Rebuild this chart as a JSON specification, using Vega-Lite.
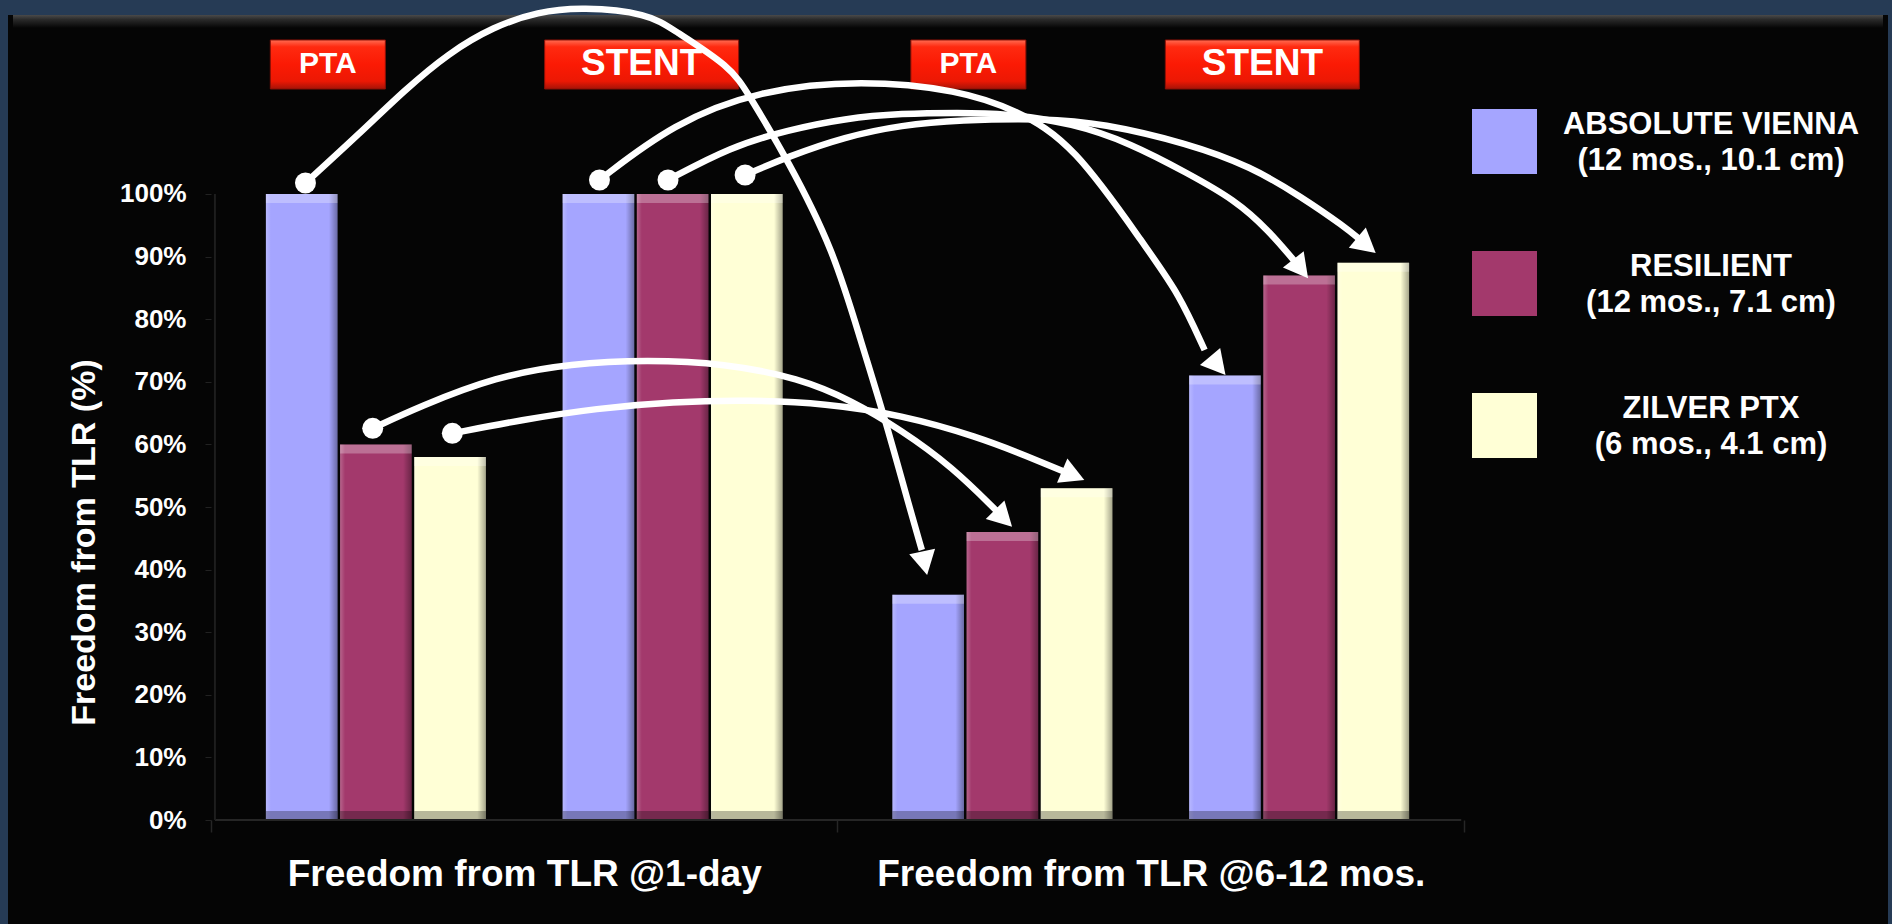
{
  "$schema": "https://vega.github.io/schema/vega-lite/v6.json",
  "width": 1880,
  "height": 909,
  "autosize": {"type": "none"},
  "padding": {"left": 8, "top": 15, "right": 4, "bottom": 0},
  "background": "#263b55",
  "config": {
    "view": {"fill": "#050505", "stroke": null},
    "font": "Liberation Sans"
  },
  "datasets": {
    "bars": [
      {"period": "Freedom from TLR @1-day", "treatment": "PTA", "series": "ABSOLUTE VIENNA", "arm": "PTA · ABSOLUTE VIENNA", "value": 1.0},
      {"period": "Freedom from TLR @1-day", "treatment": "PTA", "series": "RESILIENT", "arm": "PTA · RESILIENT", "value": 0.6},
      {"period": "Freedom from TLR @1-day", "treatment": "PTA", "series": "ZILVER PTX", "arm": "PTA · ZILVER PTX", "value": 0.58},
      {"period": "Freedom from TLR @1-day", "treatment": "STENT", "series": "ABSOLUTE VIENNA", "arm": "STENT · ABSOLUTE VIENNA", "value": 1.0},
      {"period": "Freedom from TLR @1-day", "treatment": "STENT", "series": "RESILIENT", "arm": "STENT · RESILIENT", "value": 1.0},
      {"period": "Freedom from TLR @1-day", "treatment": "STENT", "series": "ZILVER PTX", "arm": "STENT · ZILVER PTX", "value": 1.0},
      {"period": "Freedom from TLR @6-12 mos.", "treatment": "PTA", "series": "ABSOLUTE VIENNA", "arm": "PTA · ABSOLUTE VIENNA", "value": 0.36},
      {"period": "Freedom from TLR @6-12 mos.", "treatment": "PTA", "series": "RESILIENT", "arm": "PTA · RESILIENT", "value": 0.46},
      {"period": "Freedom from TLR @6-12 mos.", "treatment": "PTA", "series": "ZILVER PTX", "arm": "PTA · ZILVER PTX", "value": 0.53},
      {"period": "Freedom from TLR @6-12 mos.", "treatment": "STENT", "series": "ABSOLUTE VIENNA", "arm": "STENT · ABSOLUTE VIENNA", "value": 0.71},
      {"period": "Freedom from TLR @6-12 mos.", "treatment": "STENT", "series": "RESILIENT", "arm": "STENT · RESILIENT", "value": 0.87},
      {"period": "Freedom from TLR @6-12 mos.", "treatment": "STENT", "series": "ZILVER PTX", "arm": "STENT · ZILVER PTX", "value": 0.89}
    ],
    "tags": [
      {"tag": "PTA", "u": 0.1812},
      {"tag": "STENT", "u": 0.6848},
      {"tag": "PTA", "u": 1.2091},
      {"tag": "STENT", "u": 1.6808}
    ],
    "arrows": [
      {"arrow": "a1", "seq": 0, "u": 0.1453, "v": 1.0176},
      {"arrow": "a1", "seq": 1, "u": 0.2330, "v": 1.0974},
      {"arrow": "a1", "seq": 2, "u": 0.3045, "v": 1.1661},
      {"arrow": "a1", "seq": 3, "u": 0.3751, "v": 1.2252},
      {"arrow": "a1", "seq": 4, "u": 0.4469, "v": 1.2673},
      {"arrow": "a1", "seq": 5, "u": 0.5183, "v": 1.2912},
      {"arrow": "a1", "seq": 6, "u": 0.5890, "v": 1.2987},
      {"arrow": "a1", "seq": 7, "u": 0.6959, "v": 1.2886},
      {"arrow": "a1", "seq": 8, "u": 0.7358, "v": 1.2620},
      {"arrow": "a1", "seq": 9, "u": 0.8278, "v": 1.2034},
      {"arrow": "a1", "seq": 10, "u": 0.8552, "v": 1.1609},
      {"arrow": "a1", "seq": 11, "u": 0.9194, "v": 1.0543},
      {"arrow": "a1", "seq": 12, "u": 0.9928, "v": 0.9105},
      {"arrow": "a1", "seq": 13, "u": 1.0359, "v": 0.7668},
      {"arrow": "a1", "seq": 14, "u": 1.0774, "v": 0.6342},
      {"arrow": "a1", "seq": 15, "u": 1.1157, "v": 0.4952},
      {"arrow": "a1", "seq": 16, "u": 1.1344, "v": 0.4313},
      {"arrow": "a2", "seq": 0, "u": 0.2532, "v": 0.6257},
      {"arrow": "a2", "seq": 1, "u": 0.3280, "v": 0.6603},
      {"arrow": "a2", "seq": 2, "u": 0.4501, "v": 0.7082},
      {"arrow": "a2", "seq": 3, "u": 0.5724, "v": 0.7296},
      {"arrow": "a2", "seq": 4, "u": 0.6943, "v": 0.7348},
      {"arrow": "a2", "seq": 5, "u": 0.8168, "v": 0.7296},
      {"arrow": "a2", "seq": 6, "u": 0.9386, "v": 0.7056},
      {"arrow": "a2", "seq": 7, "u": 1.0199, "v": 0.6709},
      {"arrow": "a2", "seq": 8, "u": 1.1014, "v": 0.6230},
      {"arrow": "a2", "seq": 9, "u": 1.1828, "v": 0.5644},
      {"arrow": "a2", "seq": 10, "u": 1.2562, "v": 0.4920},
      {"arrow": "a3", "seq": 0, "u": 0.3810, "v": 0.6177},
      {"arrow": "a3", "seq": 1, "u": 0.4910, "v": 0.6390},
      {"arrow": "a3", "seq": 2, "u": 0.6129, "v": 0.6577},
      {"arrow": "a3", "seq": 3, "u": 0.7352, "v": 0.6682},
      {"arrow": "a3", "seq": 4, "u": 0.8571, "v": 0.6709},
      {"arrow": "a3", "seq": 5, "u": 0.9796, "v": 0.6656},
      {"arrow": "a3", "seq": 6, "u": 1.1014, "v": 0.6470},
      {"arrow": "a3", "seq": 7, "u": 1.2239, "v": 0.6123},
      {"arrow": "a3", "seq": 8, "u": 1.3053, "v": 0.5804},
      {"arrow": "a3", "seq": 9, "u": 1.3655, "v": 0.5554},
      {"arrow": "a4", "seq": 0, "u": 0.6171, "v": 1.0224},
      {"arrow": "a4", "seq": 1, "u": 0.7358, "v": 1.1130},
      {"arrow": "a4", "seq": 2, "u": 0.8731, "v": 1.1661},
      {"arrow": "a4", "seq": 3, "u": 1.0386, "v": 1.1821},
      {"arrow": "a4", "seq": 4, "u": 1.1939, "v": 1.1661},
      {"arrow": "a4", "seq": 5, "u": 1.2859, "v": 1.1342},
      {"arrow": "a4", "seq": 6, "u": 1.3775, "v": 1.0810},
      {"arrow": "a4", "seq": 7, "u": 1.4967, "v": 0.9105},
      {"arrow": "a4", "seq": 8, "u": 1.5467, "v": 0.8414},
      {"arrow": "a4", "seq": 9, "u": 1.5882, "v": 0.7508},
      {"arrow": "a5", "seq": 0, "u": 0.7271, "v": 1.0224},
      {"arrow": "a5", "seq": 1, "u": 0.8278, "v": 1.0756},
      {"arrow": "a5", "seq": 2, "u": 0.9194, "v": 1.1022},
      {"arrow": "a5", "seq": 3, "u": 1.0110, "v": 1.1209},
      {"arrow": "a5", "seq": 4, "u": 1.1026, "v": 1.1289},
      {"arrow": "a5", "seq": 5, "u": 1.1939, "v": 1.1299},
      {"arrow": "a5", "seq": 6, "u": 1.2673, "v": 1.1289},
      {"arrow": "a5", "seq": 7, "u": 1.3775, "v": 1.1130},
      {"arrow": "a5", "seq": 8, "u": 1.4693, "v": 1.0810},
      {"arrow": "a5", "seq": 9, "u": 1.5610, "v": 1.0331},
      {"arrow": "a5", "seq": 10, "u": 1.6372, "v": 0.9904},
      {"arrow": "a5", "seq": 11, "u": 1.6903, "v": 0.9425},
      {"arrow": "a5", "seq": 12, "u": 1.7344, "v": 0.8904},
      {"arrow": "a6", "seq": 0, "u": 0.8508, "v": 1.0304},
      {"arrow": "a6", "seq": 1, "u": 0.9194, "v": 1.0596},
      {"arrow": "a6", "seq": 2, "u": 1.0110, "v": 1.0915},
      {"arrow": "a6", "seq": 3, "u": 1.1026, "v": 1.1102},
      {"arrow": "a6", "seq": 4, "u": 1.1939, "v": 1.1182},
      {"arrow": "a6", "seq": 5, "u": 1.3312, "v": 1.1209},
      {"arrow": "a6", "seq": 6, "u": 1.4235, "v": 1.1130},
      {"arrow": "a6", "seq": 7, "u": 1.5610, "v": 1.0810},
      {"arrow": "a6", "seq": 8, "u": 1.6632, "v": 1.0436},
      {"arrow": "a6", "seq": 9, "u": 1.7430, "v": 0.9957},
      {"arrow": "a6", "seq": 10, "u": 1.8128, "v": 0.9478},
      {"arrow": "a6", "seq": 11, "u": 1.8383, "v": 0.9264}
    ],
    "heads": [
      {"arrow": "a1", "u": 1.1429, "v": 0.3914},
      {"arrow": "a2", "u": 1.2792, "v": 0.4685},
      {"arrow": "a3", "u": 1.3951, "v": 0.5431},
      {"arrow": "a4", "u": 1.6217, "v": 0.7109},
      {"arrow": "a5", "u": 1.7542, "v": 0.8653},
      {"arrow": "a6", "u": 1.8627, "v": 0.9058}
    ]
  },
  "layer": [
    {
      "data": {"name": "bars"},
      "encoding": {
        "x": {
          "field": "period",
          "type": "nominal",
          "sort": null,
          "scale": {"type": "band", "paddingInner": 0, "paddingOuter": 0.5004, "align": 0.32376},
          "axis": {
            "orient": "bottom",
            "offset": -104,
            "title": null,
            "domain": false,
            "tickBand": "extent",
            "tickColor": "#262626",
            "tickSize": 12,
            "tickWidth": 1.5,
            "labelAngle": 0,
            "labelPadding": 24,
            "labelFontSize": 37,
            "labelFontWeight": "bold",
            "labelColor": "#ffffff",
            "labelLimit": 0
          }
        },
        "xOffset": {
          "field": "arm",
          "type": "nominal",
          "scale": {
            "domain": ["PTA · ABSOLUTE VIENNA", "PTA · RESILIENT", "PTA · ZILVER PTX", "·", "STENT · ABSOLUTE VIENNA", "STENT · RESILIENT", "STENT · ZILVER PTX"],
            "paddingInner": 0.035,
            "paddingOuter": 0.74
          }
        }
      },
      "layer": [
        {
          "mark": {"type": "bar"},
          "encoding": {
            "y": {
              "field": "value",
              "type": "quantitative",
              "title": "Freedom from TLR (%)",
              "scale": {"domain": [-0.16613, 1.28594], "nice": false, "zero": false},
              "axis": {
                "values": [0, 0.1, 0.2, 0.3, 0.4, 0.5, 0.6, 0.7, 0.8, 0.9, 1],
                "format": ".0%",
                "offset": -203,
                "domain": false,
                "grid": false,
                "tickColor": "#222222",
                "tickSize": 6,
                "labelPadding": 19,
                "labelFontSize": 26,
                "labelFontWeight": "bold",
                "labelColor": "#ffffff",
                "titleFontSize": 34,
                "titleFontWeight": "bold",
                "titleColor": "#ffffff",
                "titleAngle": -90,
                "titleAlign": "center",
                "titleBaseline": "middle",
                "titleX": -127,
                "titleY": 527
              }
            },
            "y2": {"datum": 0},
            "color": {
              "field": "series",
              "type": "nominal",
              "scale": {
                "domain": ["ABSOLUTE VIENNA", "RESILIENT", "ZILVER PTX"],
                "range": ["#a5a5ff", "#a3396c", "#ffffd6"]
              },
              "legend": {
                "orient": "none",
                "legendX": 1464,
                "legendY": 94,
                "title": null,
                "padding": 0,
                "direction": "vertical",
                "symbolType": "square",
                "symbolSize": 4225,
                "symbolStrokeWidth": 0,
                "symbolOpacity": 1,
                "labelFontSize": 31,
                "labelFontWeight": "bold",
                "labelColor": "#ffffff",
                "labelAlign": "center",
                "labelOffset": 174,
                "labelLimit": 0,
                "rowPadding": 74,
                "labelExpr": "[datum.label, datum.label == 'ABSOLUTE VIENNA' ? '(12 mos., 10.1 cm)' : datum.label == 'RESILIENT' ? '(12 mos., 7.1 cm)' : '(6 mos., 4.1 cm)']",
                "encode": {"labels": {"update": {"lineHeight": {"value": 36}, "dy": {"value": -17}}}}
              }
            }
          }
        },
        {
          "mark": {
            "type": "bar",
            "fill": {
              "gradient": "linear", "x1": 0, "y1": 0, "x2": 1, "y2": 0,
              "stops": [
                {"offset": 0, "color": "rgba(255,255,255,0.22)"},
                {"offset": 0.07, "color": "rgba(255,255,255,0)"},
                {"offset": 0.88, "color": "rgba(0,0,0,0)"},
                {"offset": 1, "color": "rgba(0,0,0,0.35)"}
              ]
            }
          },
          "encoding": {
            "y": {"field": "value", "type": "quantitative", "title": "Freedom from TLR (%)"},
            "y2": {"datum": 0}
          }
        },
        {
          "mark": {"type": "rect", "y2Offset": 9, "fill": "#ffffff", "fillOpacity": 0.28},
          "encoding": {
            "y": {"field": "value", "type": "quantitative", "title": "Freedom from TLR (%)"},
            "y2": {"field": "value"}
          }
        },
        {
          "mark": {"type": "rect", "y2Offset": -9, "fill": "#000000", "fillOpacity": 0.28},
          "encoding": {
            "y": {"datum": 0, "type": "quantitative"},
            "y2": {"datum": 0}
          }
        }
      ]
    },
    {
      "layer": [
        {
          "data": {"values": [{}]},
          "mark": {
            "type": "rect",
            "y2Offset": 13,
            "fill": {
              "gradient": "linear", "x1": 0, "y1": 0, "x2": 0, "y2": 1,
              "stops": [
                {"offset": 0, "color": "#4a4a4a"},
                {"offset": 0.35, "color": "#2a2a2a"},
                {"offset": 1, "color": "#050505"}
              ]
            }
          },
          "encoding": {
            "x": {"datum": -0.32402, "type": "quantitative", "scale": {"domain": [-0.32402, 2.67678], "nice": false, "zero": false}, "axis": null},
            "x2": {"datum": 2.67678},
            "y": {"datum": 1.28594, "type": "quantitative", "scale": {"domain": [-0.16613, 1.28594], "nice": false, "zero": false}, "axis": null},
            "y2": {"datum": 1.28594}
          }
        },
        {
          "data": {"name": "tags"},
          "mark": {
            "type": "bar",
            "stroke": "#8e1006",
            "strokeWidth": 1,
            "fill": {
              "gradient": "linear", "x1": 0, "y1": 0, "x2": 0, "y2": 1,
              "stops": [
                {"offset": 0, "color": "#ff6c52"},
                {"offset": 0.14, "color": "#ff2a10"},
                {"offset": 0.5, "color": "#fb1a04"},
                {"offset": 0.84, "color": "#ec1804"},
                {"offset": 1, "color": "#a51307"}
              ]
            }
          },
          "encoding": {
            "x": {"field": "u", "type": "quantitative", "scale": {"domain": [-0.32402, 2.67678], "nice": false, "zero": false}, "axis": null},
            "y": {"datum": 1.24601, "type": "quantitative", "scale": {"domain": [-0.16613, 1.28594], "nice": false, "zero": false}, "axis": null},
            "y2": {"datum": 1.16773},
            "size": {"condition": {"test": "datum.tag === 'STENT'", "value": 194}, "value": 115}
          }
        },
        {
          "data": {"name": "tags"},
          "mark": {"type": "text", "fontWeight": "bold", "color": "#ffffff", "align": "center", "baseline": "middle"},
          "encoding": {
            "x": {"field": "u", "type": "quantitative", "scale": {"domain": [-0.32402, 2.67678], "nice": false, "zero": false}, "axis": null},
            "y": {"datum": 1.20687, "type": "quantitative", "scale": {"domain": [-0.16613, 1.28594], "nice": false, "zero": false}, "axis": null},
            "text": {"field": "tag"},
            "size": {"condition": {"test": "datum.tag === 'STENT'", "value": 37}, "value": 30}
          }
        },
        {
          "data": {"values": [{}]},
          "mark": {"type": "rule", "color": "#262626", "strokeWidth": 2},
          "encoding": {
            "x": {"datum": 0, "type": "quantitative", "scale": {"domain": [-0.32402, 2.67678], "nice": false, "zero": false}, "axis": null},
            "x2": {"datum": 2},
            "y": {"datum": 0, "type": "quantitative", "scale": {"domain": [-0.16613, 1.28594], "nice": false, "zero": false}, "axis": null}
          }
        },
        {
          "data": {"values": [{}]},
          "mark": {"type": "rule", "color": "#1e1e1e", "strokeWidth": 2},
          "encoding": {
            "x": {"datum": 0, "type": "quantitative", "scale": {"domain": [-0.32402, 2.67678], "nice": false, "zero": false}, "axis": null},
            "y": {"datum": 0, "type": "quantitative", "scale": {"domain": [-0.16613, 1.28594], "nice": false, "zero": false}, "axis": null},
            "y2": {"datum": 1}
          }
        },
        {
          "data": {"name": "arrows"},
          "mark": {"type": "line", "interpolate": "basis", "strokeWidth": 6.5, "color": "#ffffff", "strokeCap": "butt"},
          "encoding": {
            "x": {"field": "u", "type": "quantitative", "scale": {"domain": [-0.32402, 2.67678], "nice": false, "zero": false}, "axis": null},
            "y": {"field": "v", "type": "quantitative", "scale": {"domain": [-0.16613, 1.28594], "nice": false, "zero": false}, "axis": null},
            "detail": {"field": "arrow"},
            "order": {"field": "seq", "type": "quantitative"}
          }
        },
        {
          "data": {"name": "arrows"},
          "transform": [{"filter": "datum.seq === 0"}],
          "mark": {"type": "point", "shape": "circle", "filled": true, "size": 440, "color": "#ffffff", "opacity": 1},
          "encoding": {
            "x": {"field": "u", "type": "quantitative", "scale": {"domain": [-0.32402, 2.67678], "nice": false, "zero": false}, "axis": null},
            "y": {"field": "v", "type": "quantitative", "scale": {"domain": [-0.16613, 1.28594], "nice": false, "zero": false}, "axis": null}
          }
        },
        {
          "data": {"name": "heads"},
          "mark": {"type": "point", "shape": "M0,0L-0.55,-1L0.55,-1Z", "filled": true, "size": 2304, "color": "#ffffff", "opacity": 1},
          "encoding": {
            "x": {"field": "u", "type": "quantitative", "scale": {"domain": [-0.32402, 2.67678], "nice": false, "zero": false}, "axis": null},
            "y": {"field": "v", "type": "quantitative", "scale": {"domain": [-0.16613, 1.28594], "nice": false, "zero": false}, "axis": null},
            "angle": {
              "field": "arrow",
              "type": "nominal",
              "scale": {"type": "ordinal", "domain": ["a1", "a2", "a3", "a4", "a5", "a6"], "range": [-12, -45, -67, -40, -38, -50]},
              "legend": null
            }
          }
        }
      ]
    }
  ],
  "resolve": {"scale": {"x": "independent"}, "axis": {"y": "independent"}}
}
